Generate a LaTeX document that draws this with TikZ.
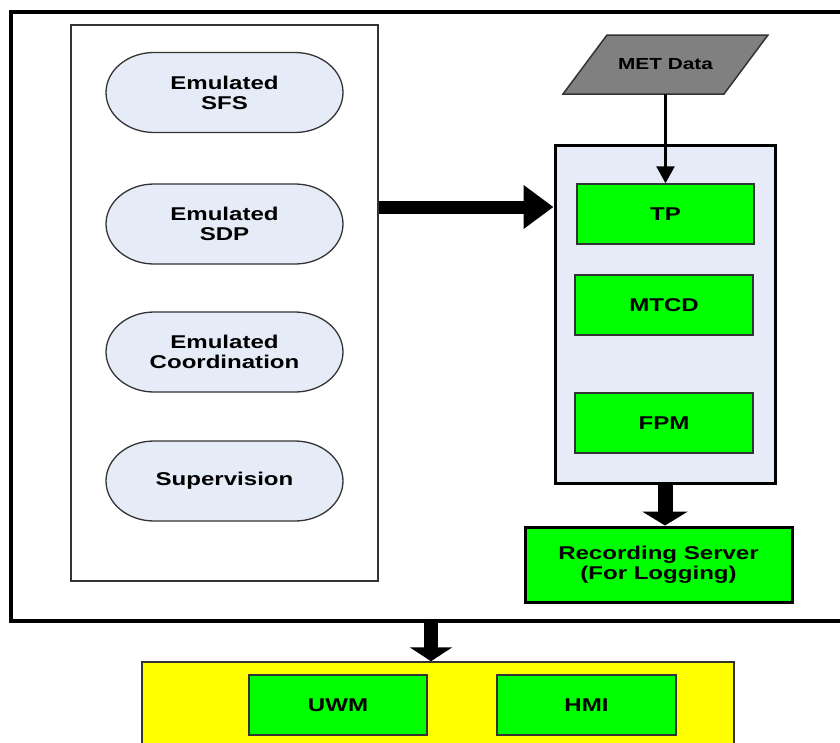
\documentclass[tikz,border=0pt]{standalone}
\usepackage{fontspec}
\setmainfont{Liberation Sans}
\newfontfamily\labfont[FakeStretch=1.3]{Liberation Sans}
\usetikzlibrary{arrows.meta}

\definecolor{paleblue}{HTML}{E6ECF7}
\definecolor{brightgreen}{HTML}{00FF00}
\definecolor{brightyellow}{HTML}{FFFF00}
\definecolor{metgray}{HTML}{808080}
\definecolor{edge}{HTML}{333333}

\tikzset{
  lab/.style={font=\labfont\bfseries\fontsize{18.5}{20}\selectfont, text=black, align=center},
  frame/.style={draw=black, line width=4pt, minimum width=849pt, minimum height=609pt, inner sep=0pt},
  panel/.style={draw=edge, line width=1.3pt, fill=white, minimum width=307pt, minimum height=556pt, inner sep=0pt},
  emushape/.style={draw=edge, line width=1.3pt, fill=paleblue},
  container/.style={draw=black, line width=3pt, fill=paleblue, inner sep=0pt},
  module/.style={lab, draw=edge, line width=1.5pt, fill=brightgreen, inner sep=0pt},
  server/.style={lab, draw=black, line width=3pt, fill=brightgreen, inner sep=0pt},
  hostbox/.style={draw=edge, line width=1.5pt, fill=brightyellow, inner sep=0pt},
  metshape/.style={draw=edge, line width=1.5pt, fill=metgray},
  thinarrow/.style={draw=black, line width=2.5pt, -{Triangle[length=17pt,width=18pt]}},
  fatarrow/.style={draw=black, line width=13pt, -{Triangle[length=30pt,width=42pt]}},
  droparrow/.style={draw=black, line width=15pt, -{Triangle[length=14pt,width=45pt]}},
}

% stadium outline with elliptical ends, centred at #1
\newcommand\emuoutline[1]{%
  \path[emushape] (#1) ++(-70.5,-40) -- ++(141,0)
    arc[start angle=-90,end angle=90,x radius=48,y radius=40] -- ++(-141,0)
    arc[start angle=90,end angle=270,x radius=48,y radius=40] -- cycle;}

\begin{document}
\begin{tikzpicture}[x=1pt,y=-1pt]
\useasboundingbox (0,0) rectangle (840,742);
\clip (0,0) rectangle (840,742);
\fill[white] (0,0) rectangle (840,742);

% outer system frame and the emulation panel
\node[frame] (outer) at (435.5,316.5) {};
\node[panel] (lbox) at (224.5,303) {};

% emulated components
\emuoutline{224.5,92.5}
\node[lab] (sfs) at (224.5,92.5) {Emulated\\SFS};
\emuoutline{224.5,224}
\node[lab] (sdp) at (224.5,224) {Emulated\\SDP};
\emuoutline{224.5,352}
\node[lab] (coord) at (224.5,352) {Emulated\\Coordination};
\emuoutline{224.5,481}
\node[lab] (sup) at (224.5,481) {Supervision};

% processing container with its modules
\node[container, minimum width=220pt, minimum height=338pt] (cont) at (665,314) {};
\node[module, minimum width=177pt, minimum height=60pt] (tp) at (665.5,214) {TP};
\node[module, minimum width=178pt, minimum height=60pt] (mtcd) at (664,305) {MTCD};
\node[module, minimum width=178pt, minimum height=60pt] (fpm) at (664,423) {FPM};

% MET data input
\path[metshape] (607,35) -- (768,35) -- (724,94) -- (563,94) -- cycle;
\node[lab, font=\labfont\bfseries\fontsize{16}{18}\selectfont, minimum width=161pt, minimum height=59pt, inner sep=0pt] (met) at (665.5,64.5) {MET Data};

% recording server
\node[server, minimum width=267pt, minimum height=75pt] (rec) at (658.5,564.5) {Recording Server\\(For Logging)};

% display host
\node[hostbox, minimum width=592pt, minimum height=98pt] (host) at (438,711) {};
\node[module, minimum width=178pt, minimum height=60pt] (uwm) at (338,705) {UWM};
\node[module, minimum width=179pt, minimum height=60pt] (hmi) at (586.5,705) {HMI};

% connectors
\coordinate (flow) at (0,207);
\coordinate (drop) at (431,0);
\draw[fatarrow] (lbox.east |- flow) -- (cont.west |- flow);
\draw[thinarrow] (met.south) -- (tp.north);
\draw[droparrow] (cont.south) -- (cont.south |- rec.north);
\draw[droparrow, line width=14pt, -{Triangle[length=14pt,width=42pt]}] (outer.south -| drop) -- (host.north -| drop);
\end{tikzpicture}
\end{document}
